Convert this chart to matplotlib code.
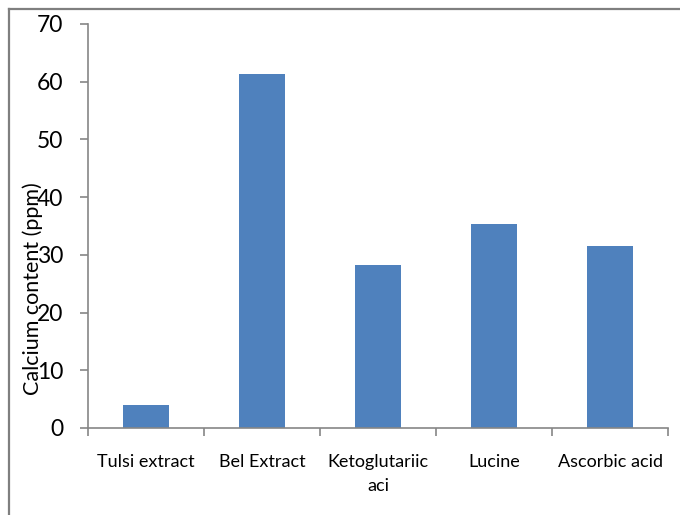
import numpy as np
import matplotlib
matplotlib.use('Agg')
import matplotlib.pyplot as plt
from matplotlib.lines import Line2D


categories = ['Tulsi extract', 'Bel Extract', 'Ketoglutariic\naci', 'Lucine', 'Ascorbic acid']
calcium_ppm = [3.9, 61.4, 28.2, 35.3, 31.5]
y_ticks = [0, 10, 20, 30, 40, 50, 60, 70]

plt.rcParams['font.family'] = ['Lato', 'DejaVu Sans']

fig = plt.figure(figsize=(6.8, 5.15), dpi=100)
ax = fig.add_axes([88/680, 87/515, 580/680, 404/515])

x = np.arange(len(categories))
ax.bar(x, calcium_ppm, width=0.4, color='#4F81BD')

ax.set_xlim(-0.5, len(categories) - 0.5)
ax.set_ylim(0, 70)
ax.set_yticks(y_ticks)
ax.set_yticklabels([str(t) for t in y_ticks], fontsize=16.5)

# category labels centred, tick marks between categories
ax.set_xticks(np.arange(-0.5, len(categories)), minor=False)
ax.set_xticklabels([])
ax.set_xticks(x, minor=True)
ax.set_xticklabels(categories, minor=True, fontsize=13, linespacing=1.6)
ax.tick_params(axis='x', which='minor', length=0, pad=19)
ax.tick_params(axis='x', which='major', length=6, width=1.2, color='#868686', direction='out')
ax.tick_params(axis='y', length=6, width=1.2, color='#868686', direction='out', pad=12)

for side in ['top', 'right']:
    ax.spines[side].set_visible(False)
for side in ['left', 'bottom']:
    ax.spines[side].set_color('#868686')
    ax.spines[side].set_linewidth(1.2)

ax.set_ylabel('Calcium content (ppm)', fontsize=15.5)
ax.yaxis.set_label_coords(-0.077, 0.345)

# outer frame (only top and left edges are visible)
fig.add_artist(Line2D([8.5/680, 1], [1 - 8.5/515, 1 - 8.5/515], color='#7f7f7f', lw=1.6))
fig.add_artist(Line2D([8.5/680, 8.5/680], [0, 1 - 8.5/515], color='#7f7f7f', lw=1.6))

fig.savefig('out.png', dpi=100)
